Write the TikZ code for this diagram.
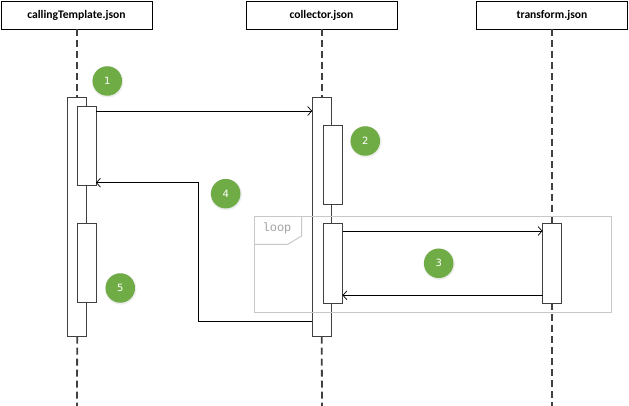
\documentclass[tikz,border=0pt]{standalone}
\usepackage{fontspec}
\setmainfont{Carlito}
\newfontfamily\numfont{DejaVu Sans}
\newfontfamily\loopfont{Liberation Mono}
\usetikzlibrary{arrows.meta}
\definecolor{lifegray}{HTML}{404040}
\definecolor{stepgreen}{HTML}{6FAC46}
\definecolor{framegray}{HTML}{C8C8C8}
\definecolor{looptext}{HTML}{A0A0A0}
\tikzset{
  hdr/.style={draw=black, line width=0.9pt, fill=white, minimum width=151pt, minimum height=28pt, inner sep=0pt, outer sep=0pt, font=\bfseries\fontsize{11.6}{13}\selectfont},
  actbox/.style={draw=lifegray, line width=1pt, fill=white, minimum width=19pt, inner sep=0pt, outer sep=0pt},
  lifeline/.style={draw=lifegray, line width=1.8pt, dash pattern=on 7pt off 4pt},
  msg/.style={draw=black, line width=0.9pt, -{Straight Barb[length=4pt,width=9pt,line width=0.7pt]}},
  stepdot/.style={circle, fill=stepgreen, minimum size=29.5pt, inner sep=0pt, text=white, font=\numfont\fontsize{10}{12}\selectfont},
  dotshadow/.style={circle, fill=black, opacity=0.07, minimum size=31.5pt, inner sep=0pt},
  loopframe/.style={draw=framegray, line width=1pt},
}
\begin{document}
\begin{tikzpicture}[x=1pt, y=-1pt]
\useasboundingbox (0,0) rectangle (629,406);
% headers
\node[hdr] (hct) at (76.5,15) {callingTemplate.json};
\node[hdr] (hco) at (321.5,15) {collector.json};
\node[hdr] (htr) at (552,15) {transform.json};
% bottom ends of lifelines
\coordinate (endct) at (77,406);
\coordinate (endco) at (322,406);
\coordinate (endtr) at (552,406);
% activation boxes
\node[actbox, minimum height=238.7pt] (ctO) at (77.2,217.35) {};
\node[actbox, minimum height=238.7pt] (coO) at (321.7,217.35) {};
% lifelines
\draw[lifeline] (hct.south -| ctO.north) -- (ctO.north);
\draw[lifeline] (ctO.south) -- (endct);
\draw[lifeline] (hco.south -| coO.north) -- (coO.north);
\draw[lifeline] (coO.south) -- (endco);
\node[actbox, minimum height=79.3pt] (tr1) at (552,263.35) {};
\draw[lifeline] (htr.south) -- (tr1.north);
\draw[lifeline] (tr1.south) -- (endtr);
\node[actbox, minimum height=79pt] (ct1) at (86.5,146.5) {};
\node[actbox, minimum height=79pt] (ct2) at (86.5,263.2) {};
\node[actbox, minimum height=78.3pt] (co1) at (333.2,165.15) {};
\node[actbox, minimum height=79.3pt] (co2) at (333,263.35) {};
% loop frame
\node[loopframe, minimum width=357pt, minimum height=95.3pt, inner sep=0pt, outer sep=0pt] (loopf) at (433.2,264.35) {};
\coordinate (tabA) at (301.7,216.7);
\coordinate (tabB) at (301.7,236);
\coordinate (tabC) at (287.7,244.3);
\coordinate (tabD) at (254.7,244.3);
\draw[loopframe] (tabA) -- (tabB) -- (tabC) -- (tabD);
\node[text=looptext, font=\loopfont\fontsize{12}{13}\selectfont, inner sep=0pt] (looplbl) at (277,228) {loop};
% messages
\coordinate (m1) at (0,111);
\draw[msg] (ct1.east |- m1) -- (coO.west |- m1);
\coordinate (m4start) at (0,321.7);
\coordinate (turn4) at (198,182.7);
\draw[msg] (coO.west |- m4start) -| (turn4) -- (ct1.east |- turn4);
\coordinate (m3a) at (0,231);
\coordinate (m3b) at (0,295.3);
\draw[msg] (co2.east |- m3a) -- (tr1.west |- m3a);
\draw[msg] (tr1.west |- m3b) -- (co2.east |- m3b);
% step dots
\foreach \n/\px/\py in {1/107.3/81, 2/365.3/141, 3/438.7/263.3, 4/225.7/193.7, 5/120.3/288}{
  \node[dotshadow] (sh\n) at (\px+0.4,\py+0.8) {};
  \node[stepdot] (s\n) at (\px,\py) {\n};
}
\end{tikzpicture}
\end{document}
